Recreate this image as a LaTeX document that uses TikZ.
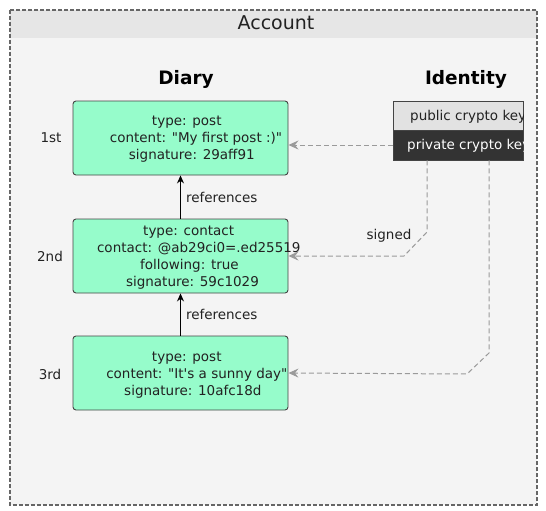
\documentclass[tikz,border=0pt]{standalone}
\usepackage{fontspec}
\setmainfont{DejaVu Sans}[Ligatures=TeXOff]
\usetikzlibrary{arrows.meta}
\definecolor{bgc}{HTML}{F4F4F4}
\definecolor{hdc}{HTML}{E6E6E6}
\definecolor{mint}{HTML}{96FCCB}
\definecolor{bordc}{HTML}{444444}
\definecolor{framec}{HTML}{666666}
\definecolor{connc}{HTML}{9A9A9A}
\definecolor{pubc}{HTML}{E2E2E2}
\definecolor{privc}{HTML}{333333}
\definecolor{txtc}{HTML}{222222}
\newlength\lnw
\newcommand\shl[1]{\settowidth{\lnw}{#1}\hspace*{0.18\lnw}#1}
\tikzset{
  txt/.style={font=\fontsize{13.5}{17}\selectfont, text=txtc, inner sep=0pt},
  diarybox/.style={draw=bordc, line width=0.9pt, fill=mint, rounded corners=3pt,
    minimum width=215pt, minimum height=74pt, inner sep=0pt},
  boxtext/.style={txt, align=center},
  title/.style={font=\fontsize{18.5}{22}\selectfont\bfseries, text=black, inner sep=0pt},
  refarrow/.style={draw=black, line width=1pt, -{Stealth[length=8pt,width=7pt]}},
  conn/.style={draw=connc, line width=1pt, dash pattern=on 5pt off 3pt,
    -{Stealth[length=10pt,width=9pt,inset=3.5pt]}},
}
\begin{document}
\begin{tikzpicture}[x=1pt,y=-1pt]
\useasboundingbox (0,0) rectangle (546,511);
% account frame
\fill[bgc] (10,10) rectangle (537,505);
\fill[hdc] (10,10) rectangle (537,38);
\draw[draw=framec, line width=1.2pt, dash pattern=on 4pt off 2pt] (10,10) rectangle (537,505);
\node[txt, font=\fontsize{19}{22}\selectfont] (acc) at (276,23) {Account};
\node[title] (diary) at (186,79) {Diary};
\node[title] (ident) at (466,79) {Identity};

% diary boxes
\node[diarybox] (b1) at (180.5,138) {};
\node[diarybox] (b2) at (180.5,256) {};
\node[diarybox] (b3) at (180.5,373) {};

\node[txt] (l1) at (51,138) {1st};
\node[txt] (l2) at (50,256) {2nd};
\node[txt] (l3) at (50,374) {3rd};

% identity boxes
\node[draw=bordc, line width=0.9pt, fill=pubc, minimum width=130pt, minimum height=29pt, inner sep=0pt] (idpub) at (458,115.5) {};
\node[draw=bordc, line width=0.9pt, fill=privc, minimum width=130pt, minimum height=30pt, inner sep=0pt] (idpriv) at (458,145) {};
\begin{scope}
\clip (393,101) rectangle (523,160);
\node[txt, anchor=west] (pubt) at (410,117) {public crypto key};
\node[txt, anchor=west, text=white] (privt) at (407,146) {private crypto key};
\end{scope}

% references
\draw[refarrow] (b2.north) -- (b1.south) node[pos=0.5, right=5pt, txt] (r1) {references};
\draw[refarrow] (b3.north) -- (b2.south) node[pos=0.5, right=5pt, txt] (r2) {references};

% signing connectors
\draw[conn] (idpriv.west) -- (idpriv.west -| b1.east);
\draw[conn] ([xshift=-31pt]idpriv.south) -- ([xshift=-31pt]idpriv.south |- 0,232) -- (404,256) -- (b2.east);
\node[txt] (sig) at (389,236) {signed};
\draw[conn] ([xshift=31pt]idpriv.south) -- ([xshift=31pt]idpriv.south |- 0,353) -- (467,374) -- (b3.east);

% box texts
\node[boxtext] (t1) at (180.5,139.5) {\shl{type: post}\\ \shl{content: "My first post :)"}\\ \shl{signature: 29aff91}};
\node[boxtext] (t2) at (180.5,257.5) {\shl{type: contact}\\ \shl{contact: @ab29ci0=.ed25519}\\ \shl{following: true}\\ \shl{signature: 59c1029}};
\node[boxtext] (t3) at (180.5,375.5) {\shl{type: post}\\ \shl{content: "It's a sunny day"}\\ \shl{signature: 10afc18d}};
\end{tikzpicture}
\end{document}
